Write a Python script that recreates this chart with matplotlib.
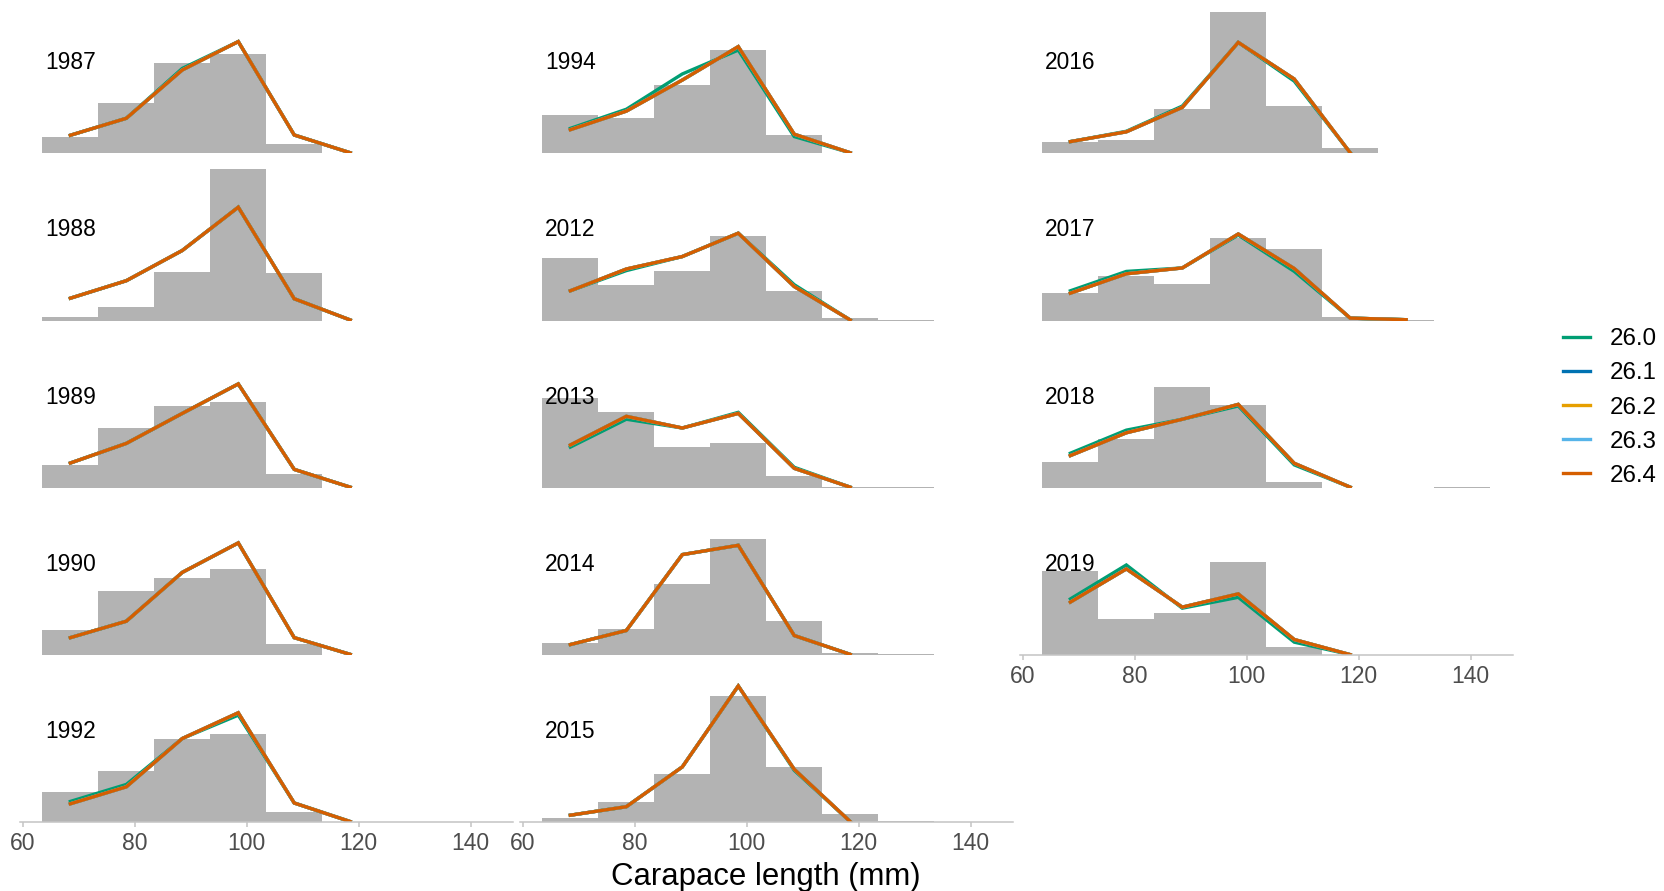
"""Carapace length histograms per year with fitted size distributions"""
import matplotlib.pyplot as plt
import matplotlib.lines as mlines

plt.rcParams["font.family"] = ["Liberation Sans", "DejaVu Sans"]

COLOR_BAR = "#b3b3b3"
COLOR_AXIS = "#c4c4c4"
COLOR_TICK_TEXT = "#4d4d4d"
COLOR_TEXT = "#000000"

# 데이터: 10 mm 구간별 관측 비율과 모형 예측 비율
years = [1987, 1988, 1989, 1990, 1992,
         1994, 2012, 2013, 2014, 2015,
         2016, 2017, 2018, 2019]
bin_mid = [68.5, 78.5, 88.5, 98.5, 108.5, 118.5, 128.5, 138.5]
xticks = [60, 80, 100, 120, 140]

observed = [
    [0.060, 0.188, 0.339, 0.373, 0.035, 0, 0, 0],
    [0.015, 0.052, 0.182, 0.572, 0.180, 0, 0, 0],
    [0.087, 0.226, 0.307, 0.324, 0.051, 0, 0, 0],
    [0.092, 0.242, 0.288, 0.324, 0.041, 0, 0, 0],
    [0.114, 0.192, 0.314, 0.333, 0.039, 0, 0, 0],
    [0.144, 0.133, 0.257, 0.388, 0.070, 0, 0, 0],
    [0.234, 0.133, 0.188, 0.320, 0.113, 0.008, 0.003, 0],
    [0.337, 0.286, 0.155, 0.167, 0.044, 0.003, 0.001, 0],
    [0.043, 0.099, 0.269, 0.437, 0.126, 0.006, 0.002, 0],
    [0.016, 0.077, 0.181, 0.475, 0.207, 0.029, 0.006, 0.002],
    [0.043, 0.050, 0.167, 0.533, 0.178, 0.020, 0, 0],
    [0.103, 0.166, 0.139, 0.312, 0.268, 0.015, 0.002, 0],
    [0.097, 0.182, 0.378, 0.313, 0.023, 0, 0, 0.002],
    [0.315, 0.136, 0.157, 0.349, 0.029, 0, 0, 0],
]

# 26.0 (green) - the only fit that shows apart from the others
fit_260 = [
    [0.068, 0.132, 0.320, 0.421, 0.069, 0.002],
    [0.084, 0.150, 0.264, 0.427, 0.082, 0.002],
    [0.093, 0.167, 0.280, 0.391, 0.069, 0.002],
    [0.065, 0.127, 0.311, 0.422, 0.065, 0.002],
    [0.078, 0.142, 0.315, 0.403, 0.072, 0.002],
    [0.094, 0.166, 0.299, 0.389, 0.063, 0.002],
    [0.112, 0.188, 0.241, 0.329, 0.135, 0.002],
    [0.153, 0.258, 0.225, 0.284, 0.077, 0.002],
    [0.039, 0.092, 0.378, 0.413, 0.073, 0.002],
    [0.026, 0.058, 0.208, 0.513, 0.195, 0.002],
    [0.044, 0.083, 0.178, 0.418, 0.272, 0.002],
    [0.112, 0.185, 0.198, 0.322, 0.185, 0.009, 0.003],
    [0.130, 0.217, 0.258, 0.308, 0.086, 0.002],
    [0.211, 0.339, 0.176, 0.217, 0.048, 0.001],
]

# 26.1 - 26.4 lie on top of each other
fit_264 = [
    [0.068, 0.132, 0.314, 0.421, 0.069, 0.002],
    [0.084, 0.150, 0.264, 0.427, 0.082, 0.002],
    [0.093, 0.167, 0.280, 0.391, 0.069, 0.002],
    [0.065, 0.127, 0.311, 0.422, 0.065, 0.002],
    [0.069, 0.133, 0.315, 0.412, 0.072, 0.002],
    [0.089, 0.159, 0.276, 0.402, 0.072, 0.002],
    [0.112, 0.194, 0.241, 0.329, 0.128, 0.002],
    [0.161, 0.269, 0.225, 0.280, 0.073, 0.002],
    [0.039, 0.092, 0.378, 0.413, 0.073, 0.002],
    [0.026, 0.058, 0.208, 0.513, 0.199, 0.002],
    [0.044, 0.081, 0.173, 0.418, 0.280, 0.002],
    [0.103, 0.176, 0.198, 0.326, 0.196, 0.009, 0.003],
    [0.121, 0.207, 0.258, 0.314, 0.092, 0.002],
    [0.199, 0.324, 0.180, 0.230, 0.058, 0.001],
]

fit_labels = ["26.0", "26.1", "26.2", "26.3", "26.4"]
fit_colors = ["#009E73", "#0072B2", "#E69F00", "#56B4E9", "#D55E00"]

W, H = 1664, 891
fig = plt.figure(figsize=(W / 100, H / 100), dpi=100)

n_rows = 5
bottom_col = {0: 4, 1: 4, 2: 3}

for i, year in enumerate(years):
    col, row = divmod(i, n_rows)
    left_px = 20 + 500 * col
    base_px = 153.3 + 167.2 * row
    ax = fig.add_axes([left_px / W, (H - base_px) / H, 492.5 / W, 159.2 / H])

    ax.bar(bin_mid, observed[i], width=10, color=COLOR_BAR, linewidth=0, zorder=1)

    fits = [fit_260[i], fit_264[i], fit_264[i], fit_264[i], fit_264[i]]
    for vals, c in zip(fits, fit_colors):
        ax.plot(bin_mid[:len(vals)], vals, color=c, linewidth=2.4,
                solid_joinstyle="miter", zorder=2)

    ax.text(64, 0.317, str(year), fontsize=16.4, color=COLOR_TEXT,
            ha="left", va="baseline", zorder=3)

    ax.set_xlim(59.5, 147.5)
    ax.set_ylim(0, 0.6)
    ax.set_yticks([])
    for spine in ["top", "right", "left"]:
        ax.spines[spine].set_visible(False)

    if row == bottom_col[col]:
        ax.spines["bottom"].set_color(COLOR_AXIS)
        ax.spines["bottom"].set_linewidth(1.1)
        ax.set_xticks(xticks)
        ax.tick_params(axis="x", colors=COLOR_AXIS, labelcolor=COLOR_TICK_TEXT,
                       labelsize=16.5, length=3.8, width=1.1, pad=3.5)
    else:
        ax.spines["bottom"].set_visible(False)
        ax.set_xticks([])
    ax.patch.set_alpha(0)

fig.text(766 / W, (H - 885) / H, "Carapace length (mm)", fontsize=22.4,
         color=COLOR_TEXT, ha="center", va="baseline")

handles = [mlines.Line2D([], [], color=c, linewidth=2.4) for c in fit_colors]
fig.legend(handles, fit_labels, loc="center left",
           bbox_to_anchor=(1563 / W, (H - 407.5) / H), frameon=False,
           fontsize=17.4, handlelength=1.12, handletextpad=0.8,
           labelspacing=0.5, borderpad=0, borderaxespad=0)

fig.savefig("out.png", dpi=100)
plt.close(fig)
